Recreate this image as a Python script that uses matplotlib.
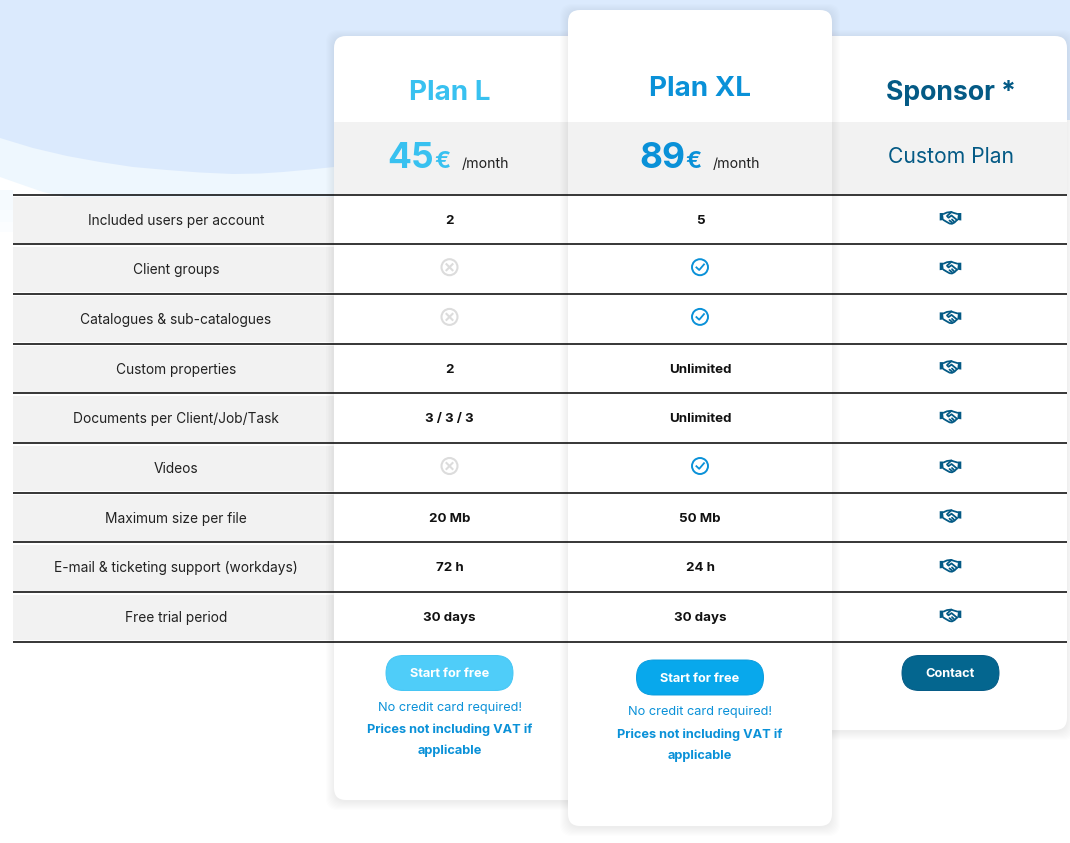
import matplotlib
matplotlib.use('Agg')
import matplotlib.pyplot as plt
from matplotlib.patches import FancyBboxPatch, Rectangle, Polygon, Circle

features = ['Included users per account', 'Client groups', 'Catalogues & sub-catalogues',
            'Custom properties', 'Documents per Client/Job/Task', 'Videos',
            'Maximum size per file', 'E-mail & ticketing support (workdays)', 'Free trial period']
plan_l = ['2', 'no', 'no', '2', '3 / 3 / 3', 'no', '20 Mb', '72 h', '30 days']
plan_xl = ['5', 'yes', 'yes', 'Unlimited', 'Unlimited', 'yes', '50 Mb', '24 h', '30 days']
sponsor = ['deal'] * 9

wave_dark_x = [0, 33, 67, 100, 133, 167, 200, 233, 260, 283, 310, 334, 420]
wave_dark_y = [138, 148, 156, 162, 167, 170, 172.5, 174, 173.5, 172, 169.5, 167, 150]
wave_light_x = [0, 20, 43, 65, 334]
wave_light_y = [177, 184, 192, 197, 197]

FONT = 'Inter'
L_COL = '#38c1f0'
XL_COL = '#0a91d8'
SP_COL = '#045a85'
GREY = '#f2f2f2'

plt.rcParams['font.family'] = [FONT, 'DejaVu Sans']
fig = plt.figure(figsize=(10.7, 8.43), dpi=100)
ax = fig.add_axes([0, 0, 1, 1])
ax.set_xlim(0, 1070)
ax.set_ylim(843, 0)
ax.axis('off')


def card(x0, y0, x1, y1, z):
    # soft shadow = stacked transparent boxes
    for i in range(9, 0, -1):
        ax.add_patch(FancyBboxPatch((x0 - i + 1, y0 - i + 3), x1 - x0 + 2 * i - 2, y1 - y0 + 2 * i - 2,
                                    boxstyle='round,pad=0,rounding_size=12', fc='#777777', ec='none',
                                    alpha=0.01, zorder=z))
    ax.add_patch(FancyBboxPatch((x0, y0), x1 - x0, y1 - y0, boxstyle='round,pad=0,rounding_size=12',
                                fc='white', ec='none', zorder=z + 0.1))


def btn(cx, cy, w, h, col, edge, label):
    ax.add_patch(FancyBboxPatch((cx - w / 2, cy - h / 2), w, h, boxstyle='round,pad=0,rounding_size=%.1f' % (h / 2),
                                fc=col, ec=edge, lw=0.7, zorder=9))
    ax.text(cx, cy + 1, label, color='white', fontsize=9.2, fontweight='bold', ha='center', va='center', zorder=10)


def no_icon(cx, cy):
    ax.add_patch(Circle((cx, cy), 8, fc='none', ec='#dcdcdc', lw=1.5, zorder=9))
    ax.plot([cx - 3, cx + 3], [cy - 3, cy + 3], color='#dcdcdc', lw=1.5, zorder=9)
    ax.plot([cx - 3, cx + 3], [cy + 3, cy - 3], color='#dcdcdc', lw=1.5, zorder=9)


def yes_icon(cx, cy):
    ax.add_patch(Circle((cx, cy), 8, fc='none', ec=XL_COL, lw=1.4, zorder=9))
    ax.plot([cx - 3.6, cx - 0.8, cx + 4], [cy + 0.2, cy + 2.8, cy - 2.8], color=XL_COL, lw=1.3, zorder=9)


def deal_icon(cx, cy):
    # little handshake
    s = dict(color=SP_COL, lw=1.3, zorder=9, solid_capstyle='round')
    for d in (-1, 1):
        ax.add_patch(Polygon([(cx + d * 10.8, cy - 4.5), (cx + d * 7.6, cy - 4.5), (cx + d * 6.8, cy + 2.5), (cx + d * 10.8, cy + 3)],
                             fc=SP_COL, ec='none', zorder=9))
    ax.plot([cx - 7, cx - 3.5, cx + 0.5, cx + 3.5, cx + 7], [cy - 3.5, cy - 5, cy - 5.5, cy - 4.5, cy - 3.5], **s)
    ax.plot([cx + 1, cx - 3.5, cx - 2, cx + 1, cx + 6.5], [cy - 5.5, cy - 1.5, cy + 0.2, cy - 2, cy + 2.5], **s)
    ax.plot([cx - 7, cx - 4.5, cx - 1, cx + 1.5, cx + 4, cx + 6.5], [cy + 2.5, cy + 4, cy + 6, cy + 6.3, cy + 5, cy + 2.5], **s)
    ax.plot([cx - 1, cx + 1.5], [cy + 3, cy + 5], **s)
    ax.plot([cx + 1.5, cx + 3.5], [cy + 2, cy + 4], **s)


# background
ax.add_patch(Rectangle((0, 0), 1070, 843, fc='white', ec='none', zorder=0))
for j, (bottom, tone) in enumerate([(232, '#fbfdff'), (222, '#f8fcff'), (210, '#f5fafe')]):
    ax.add_patch(Rectangle((0, 190), 13, bottom - 190, fc=tone, ec='none', zorder=0.2 + j * 0.1))
ax.add_patch(Polygon(list(zip(wave_light_x, wave_light_y)) + [(334, 0), (0, 0)], fc='#eef7fe', ec='none', zorder=0.5))
ax.add_patch(Rectangle((0, 0), 1070, 120, fc='#dbeafd', ec='none', zorder=0.6))
ax.add_patch(Polygon(list(zip(wave_dark_x, wave_dark_y)) + [(420, 0), (0, 0)], fc='#dbeafd', ec='none', zorder=0.6))

# cards
card(334, 36, 640, 800, 1)
card(760, 36, 1067, 730, 1)
ax.add_patch(Rectangle((334, 122), 733, 72, fc=GREY, ec='none', zorder=2))
card(568, 10, 832, 826, 3)
ax.add_patch(Rectangle((568, 122), 264, 72, fc=GREY, ec='none', zorder=4))

# left labels + rows
row_top = 194.5
row_h = 49.7
for i, name in enumerate(features):
    y0 = row_top + i * row_h
    cy = y0 + 25
    ax.add_patch(Rectangle((13, y0 + 2.5), 321, row_h - 4, fc=GREY, ec='none', zorder=2))
    for j in range(5):
        ax.add_patch(Rectangle((326 + j * 1.6, y0 + 2.5), 1.6, row_h - 4, fc='#888888', ec='none', alpha=0.03 * (j + 1), zorder=2.1))
    ax.text(176, cy + 1, name, color='#222222', fontsize=9.9, ha='center', va='center', zorder=9)
    for cx, val in [(449.5, plan_l[i]), (700, plan_xl[i]), (950.5, sponsor[i])]:
        if val == 'no':
            no_icon(cx, cy - 2)
        elif val == 'yes':
            yes_icon(cx, cy - 2)
        elif val == 'deal':
            deal_icon(cx, cy - 2)
        else:
            ax.text(cx, cy + 1, val, color='#111111', fontsize=9.6, fontweight='bold', ha='center', va='center', zorder=9)

for i in range(len(features) + 1):
    y = row_top + i * row_h
    ax.plot([13, 1067], [y, y], color='#000000', lw=1.1, zorder=8, solid_capstyle='butt')

# headers
ax.text(449.5, 93, 'Plan L', color=L_COL, fontsize=20, fontweight='bold', ha='center', va='center', zorder=9)
ax.text(700, 89, 'Plan XL', color=XL_COL, fontsize=20, fontweight='bold', ha='center', va='center', zorder=9)
ax.text(950.5, 93, 'Sponsor *', color=SP_COL, fontsize=19.2, fontweight='bold', ha='center', va='center', zorder=9)

# prices
ax.text(411, 168, '45', color=L_COL, fontsize=25.5, fontweight='bold', ha='center', va='baseline', zorder=9)
ax.text(442, 168, '€', color=L_COL, fontsize=17, fontweight='bold', ha='center', va='baseline', zorder=9)
ax.text(485, 168, '/month', color='#222222', fontsize=10.2, ha='center', va='baseline', zorder=9)
ax.text(662, 168, '89', color=XL_COL, fontsize=25.5, fontweight='bold', ha='center', va='baseline', zorder=9)
ax.text(693, 168, '€', color=XL_COL, fontsize=17, fontweight='bold', ha='center', va='baseline', zorder=9)
ax.text(736, 168, '/month', color='#222222', fontsize=10.2, ha='center', va='baseline', zorder=9)
ax.text(950.5, 157, 'Custom Plan', color=SP_COL, fontsize=15.2, ha='center', va='center', zorder=9)

# buttons
btn(449.5, 673, 127, 35, '#4fcdf9', '#45c6f4', 'Start for free')
btn(700, 677.5, 127, 35, '#08a8ec', '#0a9ddf', 'Start for free')
btn(950.5, 673, 97, 35, '#04668f', '#045a85', 'Contact')

for cx, top in [(449.5, 708), (700, 712.5)]:
    ax.text(cx, top, 'No credit card required!', color=XL_COL, fontsize=9.2, ha='center', va='center', zorder=9)
    ax.text(cx, top + 22, 'Prices not including VAT if', color=XL_COL, fontsize=9.2, fontweight='bold', ha='center', va='center', zorder=9)
    ax.text(cx, top + 43, 'applicable', color=XL_COL, fontsize=9.2, fontweight='bold', ha='center', va='center', zorder=9)

fig.savefig('out.png', dpi=100)
